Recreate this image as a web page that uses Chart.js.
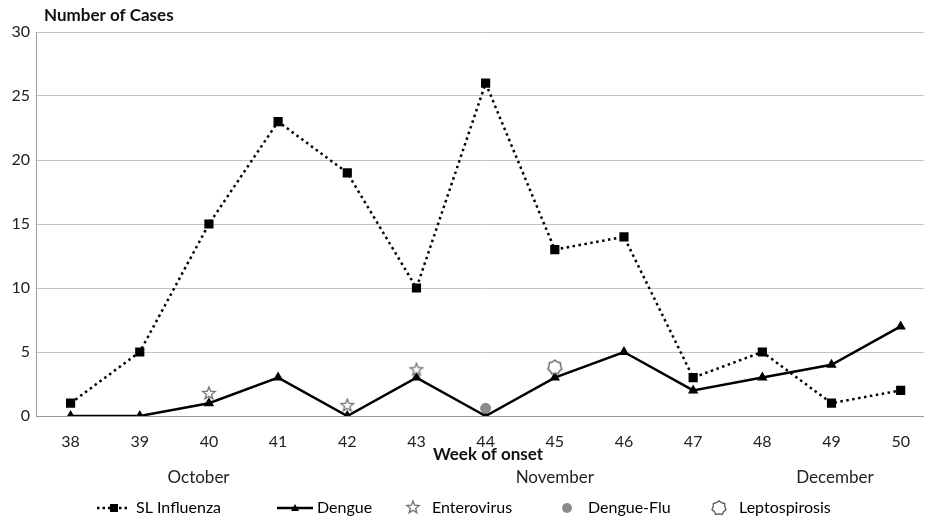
<!DOCTYPE html>
<html>
<head>
<meta charset="utf-8">
<script src="https://cdn.jsdelivr.net/npm/chart.js@4.4.0/dist/chart.umd.min.js"></script>
<style>
  html, body { margin: 0; padding: 0; background: #fff; overflow: hidden; }
  #wrap { width: 930px; height: 518px; position: relative; }
</style>
</head>
<body>
<div id="wrap"><canvas id="casesChart" width="930" height="518"></canvas></div>
<script>
// week numbers along the x axis
const weeks = [38, 39, 40, 41, 42, 43, 44, 45, 46, 47, 48, 49, 50];
const slInfluenza = [1, 5, 15, 23, 19, 10, 26, 13, 14, 3, 5, 1, 2];
const dengue = [0, 0, 1, 3, 0, 3, 0, 3, 5, 2, 3, 4, 7];
// single cases, drawn just above the dengue line as in the original
const enterovirusWeeks = [40, 42, 43];
const enterovirus = [1.8, 0.85, 3.65];
const dengueFluWeeks = [44];
const dengueFlu = [0.6];
const leptoWeeks = [45];
const lepto = [3.8];
const yTicks = [0, 5, 10, 15, 20, 25, 30];
const months = ['October', 'November', 'December'];
const monthWeeks = [39.85, 45, 49.05];

const FONT = 'Lato, "Open Sans", sans-serif';

function toPoints(xs, ys) {
    return xs.map((x, i) => ({ x: x, y: ys[i] }));
}

// outline star for Enterovirus
function makeStar() {
    const c = document.createElement('canvas');
    c.width = 16; c.height = 16;
    const g = c.getContext('2d');
    g.beginPath();
    for (let i = 0; i < 10; i++) {
        const r = i % 2 === 0 ? 6.5 : 2.8;
        const a = -Math.PI / 2 + i * Math.PI / 5;
        g.lineTo(8 + r * Math.cos(a), 8.5 + r * Math.sin(a));
    }
    g.closePath();
    g.fillStyle = '#fff';
    g.fill();
    g.strokeStyle = '#6e6e6e';
    g.lineWidth = 1.3;
    g.stroke();
    return c;
}

// wavy heptagon for Leptospirosis
function makeHepta() {
    const c = document.createElement('canvas');
    c.width = 18; c.height = 18;
    const g = c.getContext('2d');
    g.beginPath();
    for (let i = 0; i < 14; i++) {
        const r = i % 2 === 0 ? 7.2 : 5.9;
        const a = -Math.PI / 2 + i * Math.PI / 7;
        g.lineTo(9 + r * Math.cos(a), 9 + r * Math.sin(a));
    }
    g.closePath();
    g.fillStyle = '#fff';
    g.fill();
    g.strokeStyle = '#555';
    g.lineWidth = 1.3;
    g.stroke();
    return c;
}

const starImg = makeStar();
const heptaImg = makeHepta();

// axis title, month names and legend drawn under the chart
const extraText = {
    id: 'extraText',
    afterDraw(chart) {
        const ctx = chart.ctx;
        const xs = chart.scales.x;
        ctx.save();
        ctx.fillStyle = '#111';
        ctx.textBaseline = 'middle';

        ctx.font = 'bold 17px ' + FONT;
        ctx.textAlign = 'left';
        ctx.fillText('Number of Cases', 44, 16);

        ctx.textAlign = 'center';
        ctx.fillText('Week of onset', 488, 455);

        ctx.font = '17px ' + FONT;
        ctx.fillStyle = '#222';
        months.forEach((m, i) => {
            ctx.fillText(m, xs.getPixelForValue(monthWeeks[i]), 478);
        });

        // legend
        const ly = 508;
        ctx.textAlign = 'left';
        ctx.font = '16px ' + FONT;

        ctx.strokeStyle = '#000';
        ctx.lineWidth = 2.5;
        ctx.setLineDash([2.5, 3]);
        ctx.beginPath(); ctx.moveTo(97, ly); ctx.lineTo(130, ly); ctx.stroke();
        ctx.setLineDash([]);
        ctx.fillStyle = '#000';
        ctx.fillRect(110, ly - 4, 8, 8);
        ctx.fillText('SL Influenza', 136, ly);

        ctx.beginPath(); ctx.moveTo(277, ly); ctx.lineTo(313, ly); ctx.stroke();
        ctx.beginPath();
        ctx.moveTo(295, ly - 4); ctx.lineTo(299, ly + 3); ctx.lineTo(291, ly + 3);
        ctx.closePath(); ctx.fill();
        ctx.fillText('Dengue', 317, ly);

        ctx.drawImage(starImg, 405, ly - 9);
        ctx.fillText('Enterovirus', 432, ly);

        ctx.fillStyle = '#8c8c8c';
        ctx.beginPath(); ctx.arc(567, ly, 5, 0, Math.PI * 2); ctx.fill();
        ctx.fillStyle = '#000';
        ctx.fillText('Dengue-Flu', 588, ly);

        ctx.drawImage(heptaImg, 710, ly - 9);
        ctx.fillText('Leptospirosis', 739, ly);
        ctx.restore();
    }
};

const ctx = document.getElementById('casesChart').getContext('2d');
new Chart(ctx, {
    type: 'line',
    data: {
        datasets: [
            {
                label: 'Enterovirus',
                data: toPoints(enterovirusWeeks, enterovirus),
                showLine: false,
                pointStyle: starImg,
                order: 1
            },
            {
                label: 'Dengue-Flu',
                data: toPoints(dengueFluWeeks, dengueFlu),
                showLine: false,
                pointStyle: 'circle',
                pointRadius: 5.5,
                backgroundColor: '#8c8c8c',
                borderColor: '#8c8c8c',
                borderWidth: 0,
                order: 2
            },
            {
                label: 'Leptospirosis',
                data: toPoints(leptoWeeks, lepto),
                showLine: false,
                pointStyle: heptaImg,
                order: 3
            },
            {
                label: 'Dengue',
                data: toPoints(weeks, dengue),
                borderColor: '#000',
                backgroundColor: '#000',
                borderWidth: 2.5,
                pointStyle: 'triangle',
                pointRadius: 6,
                pointBorderWidth: 0,
                tension: 0,
                order: 4
            },
            {
                label: 'SL Influenza',
                data: toPoints(weeks, slInfluenza),
                borderColor: '#000',
                backgroundColor: '#000',
                borderWidth: 2.5,
                borderDash: [2.5, 3.5],
                pointStyle: 'rect',
                pointRadius: 6.5,
                pointBorderWidth: 0,
                tension: 0,
                order: 5
            }
        ]
    },
    options: {
        responsive: false,
        animation: false,
        layout: { padding: { top: 32, left: 0, right: 0, bottom: 0 } },
        plugins: {
            legend: { display: false },
            tooltip: { enabled: false }
        },
        scales: {
            x: {
                type: 'linear',
                min: 37.5,
                max: 50.33,
                afterBuildTicks: (scale) => { scale.ticks = weeks.map(v => ({ value: v })); },
                afterFit: (scale) => { scale.height = 102; },
                grid: { display: false },
                border: { display: true, color: '#9a9a9a', width: 1 },
                ticks: {
                    color: '#222',
                    font: { family: FONT, size: 16 },
                    padding: 8,
                    autoSkip: false,
                    maxRotation: 0
                }
            },
            y: {
                min: 0,
                max: 30,
                afterBuildTicks: (scale) => { scale.ticks = yTicks.map(v => ({ value: v })); },
                afterFit: (scale) => { scale.width = 36; },
                grid: { color: '#c4c4c4', lineWidth: 1, drawTicks: false },
                border: { display: true, color: '#9a9a9a', width: 1 },
                ticks: {
                    color: '#222',
                    font: { family: FONT, size: 16 },
                    padding: 6
                }
            }
        }
    },
    plugins: [extraText]
});
</script>
</body>
</html>
